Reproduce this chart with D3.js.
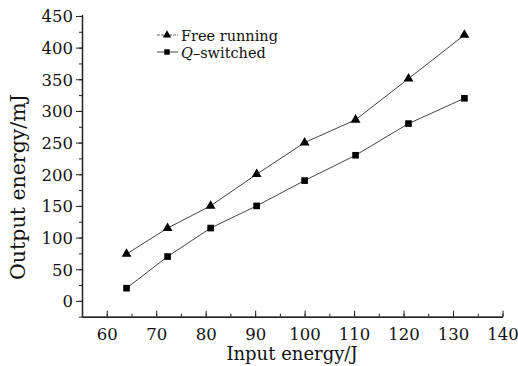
<!DOCTYPE html>
<html>
<head>
    <title>Output energy vs input energy</title>
    <style>
        body { margin: 0; background: #ffffff; }
        text { font-family: "DejaVu Serif", "Liberation Serif", serif; fill: #111; }
        .tick text { font-size: 16.5px; }
        .axis path, .axis line { stroke: #222; }
        .series { fill: none; stroke: #444; stroke-width: 1; }
    </style>
    <script src="https://d3js.org/d3.v7.min.js"></script>
</head>
<body>
<div id="chart"></div>
<script>
    // values
    var inputEnergy = [64, 72.3, 81, 90.3, 100, 110.3, 121, 132.3];
    var freeRunning = [74, 115, 150, 200, 250, 286, 351, 420];
    var qSwitched   = [20, 70, 115, 150, 190, 230, 280, 320];
    var xTicks = [60, 70, 80, 90, 100, 110, 120, 130, 140];
    var yTicks = [0, 50, 100, 150, 200, 250, 300, 350, 400, 450];

    var width = 518, height = 366;

    var svg = d3.select('#chart')
        .append('svg')
        .attr('width', width)
        .attr('height', height);

    var x = d3.scaleLinear().domain([55, 140]).range([82, 502.5]);
    var y = d3.scaleLinear().domain([-25, 452]).range([316.7, 14.7]);

    // minor ticks first
    svg.append('g')
        .attr('class', 'axis')
        .attr('transform', 'translate(0,316.7)')
        .call(d3.axisBottom(x).tickValues(d3.range(55, 141, 5)).tickSize(-3).tickSizeOuter(0).tickFormat(''));

    svg.append('g')
        .attr('class', 'axis')
        .attr('transform', 'translate(82,0)')
        .call(d3.axisLeft(y).tickValues(d3.range(-25, 451, 25)).tickSize(3).tickSizeOuter(0).tickFormat(''));

    // major ticks
    var xAxis = svg.append('g')
        .attr('class', 'axis')
        .attr('transform', 'translate(0,316.7)')
        .call(d3.axisBottom(x).tickValues(xTicks).tickSize(-6).tickSizeOuter(0));
    xAxis.selectAll('.tick text').attr('y', 23.5).attr('dy', 0);
    xAxis.select('.domain').attr('stroke-width', 1.5);

    var yAxis = svg.append('g')
        .attr('class', 'axis')
        .attr('transform', 'translate(82,0)')
        .call(d3.axisLeft(y).tickValues(yTicks).tickSize(6).tickSizeOuter(0));
    yAxis.selectAll('.tick text').attr('x', -9).attr('dy', '0.36em');
    yAxis.select('.domain').attr('stroke-width', 1.5);

    var line = d3.line()
        .x(function(d) { return x(d[0]); })
        .y(function(d) { return y(d[1]); });

    var freeData = inputEnergy.map(function(v, i) { return [v, freeRunning[i]]; });
    var qData = inputEnergy.map(function(v, i) { return [v, qSwitched[i]]; });

    svg.append('path').attr('class', 'series').attr('d', line(freeData));
    svg.append('path').attr('class', 'series').attr('d', line(qData));

    var tri = d3.symbol().type(d3.symbolTriangle).size(42);
    var sq = d3.symbol().type(d3.symbolSquare).size(44);

    svg.selectAll('.tri')
        .data(freeData)
        .enter()
        .append('path')
        .attr('d', tri)
        .attr('transform', function(d) { return 'translate(' + x(d[0]) + ',' + y(d[1]) + ')'; })
        .style('fill', '#000');

    svg.selectAll('.sq')
        .data(qData)
        .enter()
        .append('path')
        .attr('d', sq)
        .attr('transform', function(d) { return 'translate(' + x(d[0]) + ',' + y(d[1]) + ')'; })
        .style('fill', '#000');

    // legend
    var legend = svg.append('g');
    legend.append('line').attr('x1', 157).attr('x2', 178).attr('y1', 35).attr('y2', 35)
        .style('stroke', '#666').style('stroke-width', 1).style('stroke-dasharray', '3,1');
    legend.append('path').attr('d', d3.symbol().type(d3.symbolTriangle).size(30))
        .attr('transform', 'translate(167,35)').style('fill', '#000');
    legend.append('text').attr('x', 181).attr('y', 41).style('font-size', '14.5px').text('Free running');

    legend.append('line').attr('x1', 157).attr('x2', 178).attr('y1', 52).attr('y2', 52)
        .style('stroke', '#444').style('stroke-width', 1);
    legend.append('path').attr('d', d3.symbol().type(d3.symbolSquare).size(30))
        .attr('transform', 'translate(167,52)').style('fill', '#000');
    var qt = legend.append('text').attr('x', 181).attr('y', 57.5).style('font-size', '14.5px');
    qt.append('tspan').style('font-style', 'italic').text('Q');
    qt.append('tspan').text('\u2013switched');

    // axis titles
    svg.append('text')
        .attr('x', 292)
        .attr('y', 360)
        .style('text-anchor', 'middle')
        .style('font-size', '18px')
        .text('Input energy/J');

    svg.append('text')
        .attr('transform', 'rotate(-90)')
        .attr('x', -187)
        .attr('y', 25)
        .style('text-anchor', 'middle')
        .style('font-size', '20.5px')
        .text('Output energy/mJ');
</script>
</body>
</html>
